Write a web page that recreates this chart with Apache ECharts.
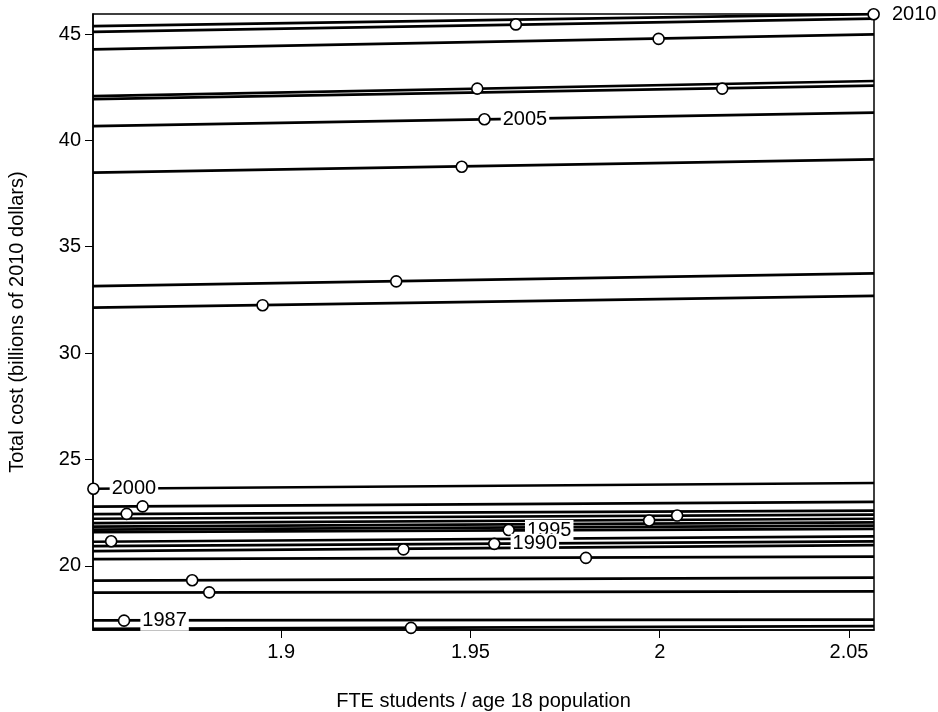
<!DOCTYPE html>
<html><head><meta charset="utf-8">
<script src="https://cdn.jsdelivr.net/npm/echarts@6/dist/echarts.min.js"></script>
<style>html,body{margin:0;padding:0;background:#fff}#c{width:938px;height:712px}</style>
</head><body><div id="c"></div>
<script>
// axis ranges and ticks
const xRange = [1.8503, 2.0566];
const yRange = [16.98, 45.94];
const xTicks = [1.9, 1.95, 2, 2.05];
const yTicks = [20, 25, 30, 35, 40, 45];

// nearly horizontal lines: value at left edge and right edge of the plot
const lineLeft  = [45.37, 45.10, 44.28, 42.08, 41.94, 40.67, 38.48, 33.15, 32.14, 23.62, 22.78, 22.43, 22.21, 22.00, 21.84, 21.70, 21.58, 21.13, 20.92, 20.69, 20.31, 19.30, 18.74, 17.43, 17.03];
const lineRight = [45.93, 45.72, 44.98, 42.79, 42.57, 41.30, 39.11, 33.75, 32.69, 23.89, 23.00, 22.59, 22.40, 22.21, 22.04, 21.89, 21.73, 21.38, 21.15, 20.97, 20.43, 19.44, 18.80, 17.47, 17.16];

// points
const pointX = [2.0565, 1.9620, 1.9997, 1.9518, 2.0165, 1.9537, 1.9477, 1.9304, 1.8951, 1.8504, 1.8634, 1.8592, 1.8551, 1.9601, 1.9972, 2.0046, 1.9563, 1.9323, 1.9805, 1.8765, 1.8810, 1.8585, 1.9343];
const pointY = [45.93, 45.45, 44.77, 42.43, 42.43, 40.99, 38.76, 33.37, 32.25, 23.62, 22.79, 22.44, 21.15, 21.68, 22.13, 22.36, 21.03, 20.77, 20.37, 19.32, 18.75, 17.42, 17.08];
const pointLabel = ['2010', '', '', '', '', '2005', '', '', '', '2000', '', '', '', '1995', '', '', '1990', '', '', '', '', '1987', ''];

const FONT = 'Liberation Sans, Arial, Helvetica, sans-serif';
const chart = echarts.init(document.getElementById('c'), null, {renderer: 'canvas'});

const series = [];
lineLeft.forEach((l, i) => {
  series.push({
    type: 'line', silent: true, animation: false, showSymbol: false, symbol: 'none',
    clip: true, z: 2,
    lineStyle: {color: '#000', width: 2.7},
    data: [[xRange[0], l], [xRange[1], lineRight[i]]]
  });
});
series.push({
  type: 'scatter', animation: false, clip: false, z: 5, silent: true,
  symbol: 'circle', symbolSize: 11,
  itemStyle: {color: '#fff', borderColor: '#000', borderWidth: 1.6, opacity: 1},
  label: {
    show: true, position: 'right', distance: 10, offset: [0, 3],
    formatter: p => pointLabel[p.dataIndex],
    color: '#000', fontSize: 20, fontFamily: FONT,
    backgroundColor: '#fff', padding: [0, 2, 0, 2]
  },
  labelLayout: {hideOverlap: false},
  data: pointX.map((x, i) => pointLabel[i] ? {value: [x, pointY[i]]} : {value: [x, pointY[i]], label: {show: false}})
});

chart.setOption({
  backgroundColor: '#fff',
  animation: false,
  grid: {left: 93, right: 64, top: 14, bottom: 82, show: true, borderColor: '#000', borderWidth: 1.5,
    containLabel: false, outerBoundsMode: 'none'},
  xAxis: {
    type: 'value', min: xRange[0], max: xRange[1],
    name: 'FTE students / age 18 population', nameLocation: 'middle', nameGap: 61,
    nameTextStyle: {color: '#000', fontSize: 20, fontFamily: FONT},
    axisLine: {show: true, lineStyle: {color: '#000', width: 1.5}},
    axisTick: {show: true, length: 8, lineStyle: {color: '#000', width: 1}, customValues: xTicks},
    axisLabel: {color: '#000', fontSize: 20, fontFamily: FONT, margin: 12, customValues: xTicks,
      formatter: v => String(Math.round(v * 100) / 100)},
    splitLine: {show: false}
  },
  yAxis: {
    type: 'value', min: yRange[0], max: yRange[1],
    name: 'Total cost (billions of 2010 dollars)', nameLocation: 'middle', nameGap: 66, nameRotate: 90,
    nameTextStyle: {color: '#000', fontSize: 20, fontFamily: FONT},
    axisLine: {show: true, lineStyle: {color: '#000', width: 1.5}},
    axisTick: {show: true, length: 8, lineStyle: {color: '#000', width: 1}, customValues: yTicks},
    axisLabel: {color: '#000', fontSize: 20, fontFamily: FONT, margin: 12, customValues: yTicks},
    splitLine: {show: false}
  },
  series: series
});
</script>
</body></html>
